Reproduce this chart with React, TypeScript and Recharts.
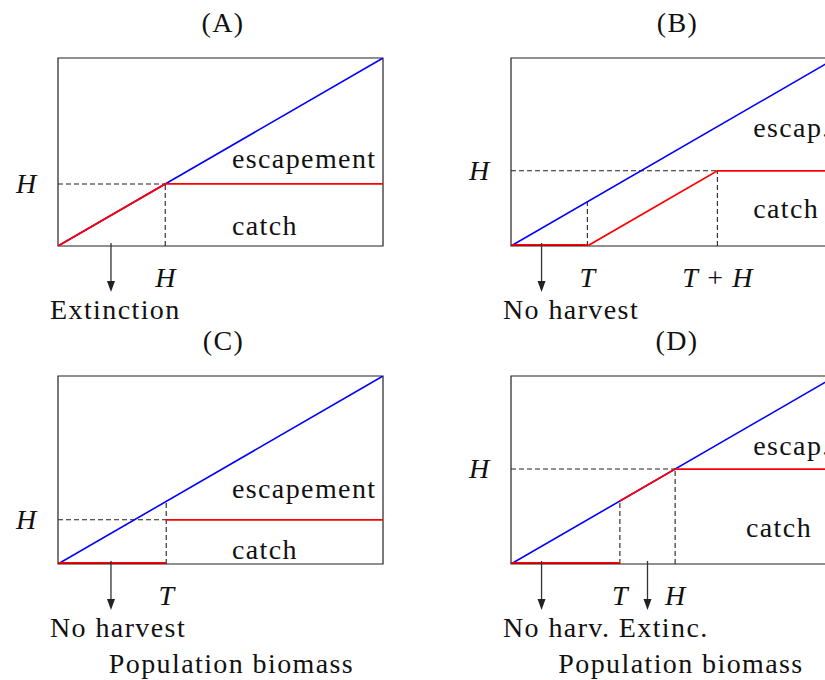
import React from 'react';
import {
  ComposedChart,
  Line,
  XAxis,
  YAxis,
  ReferenceArea,
  ReferenceLine,
  ReferenceDot,
} from 'recharts';

// ---- Harvest control rules: biomass (blue) vs. catch (red) ----

// Shared diagonal: total population biomass
const biomassX = [0, 1];
const biomassY = [0, 1];

// (A) constant catch H
const hA = 0.33;
const catchXA = [0, hA, 1];
const catchYA = [0, hA, hA];

// (B) threshold T, catch rises to H
const hB = 0.4;
const tB = 0.235;
const catchXB = [tB, tB + hB, 1];
const catchYB = [0, hB, hB];

// (C) threshold T, constant catch H above it
const hC = 0.235;
const tC = 0.333;
const catchXC = [tC, 1];
const catchYC = [hC, hC];

// (D) threshold T below H
const hD = 0.505;
const tD = 0.335;
const catchXD = [tD, hD, 1];
const catchYD = [tD, hD, hD];

// Axis ticks and their labels
const xTicksA = [hA];
const xLabelsA = ['H'];
const xTicksB = [tB, tB + hB];
const xLabelsB = ['T', 'T + H'];
const xTicksC = [tC];
const xLabelsC = ['T'];
const xTicksD = [tD, hD];
const xLabelsD = ['T', 'H'];

// Arrow positions along the biomass axis
const arrowsA = [0.163];
const arrowsB = [0.094];
const arrowsC = [0.163];
const arrowsD = [0.094, 0.42];

const FONT = 'Liberation Serif, DejaVu Serif, serif';
const FS = 28;
const LS = 1.4;
const INK = '#111';
const BLUE = '#0000ff';
const RED = '#ff0000';

type Seg = [number, number, number, number];
type Note = { text: string; x: number; y: number };

interface PanelProps {
  title: string;
  left: number;
  top: number;
  catchX: number[];
  catchY: number[];
  threshold?: number;
  xTicks: number[];
  xLabels: string[];
  yTick: number;
  guides: Seg[];
  arrows: number[];
  caption: string;
  upper: Note;
  lower: Note;
  footer?: string;
  footerShift: number;
  titleShift: number;
}

const textStyle: React.CSSProperties = {
  fontFamily: FONT,
  fontSize: FS,
  fill: INK,
};

const mathSpans = (label: string) =>
  label.split(' ').map((tok, i) =>
    tok === '+' ? (
      <tspan key={i} style={{ fontStyle: 'normal' }}>{'\u2004+\u2004'}</tspan>
    ) : (
      <tspan key={i} style={{ fontStyle: 'italic' }}>{tok}</tspan>
    )
  );

const makeXTick = (ticks: number[], labels: string[]) => (props: any) => {
  const { x, y, payload } = props;
  const idx = ticks.findIndex((t) => Math.abs(t - payload.value) < 1e-9);
  if (idx < 0) return <g />;
  return (
    <text x={x} y={y + 41} textAnchor="middle" style={textStyle}>
      {mathSpans(labels[idx])}
    </text>
  );
};

const YTick = (props: any) => {
  const { x, y } = props;
  return (
    <text x={x - 32} y={y + 9} textAnchor="middle" style={{ ...textStyle, fontStyle: 'italic' }}>
      H
    </text>
  );
};

const arrowShape = (p: any) => {
  const x = p.x1;
  const base = Math.max(p.y1, p.y2);
  return (
    <g>
      <line x1={x} y1={base - 3} x2={x} y2={base + 38} stroke="#333" strokeWidth={1.3} />
      <polygon points={`${x - 4},${base + 35} ${x + 4},${base + 35} ${x},${base + 46}`} fill="#222" />
    </g>
  );
};

const textAt = (text: string, dx: number, dy: number, anchor: 'start' | 'middle') => (p: any) => (
  <text
    x={p.cx + dx}
    y={p.cy + dy}
    textAnchor={anchor}
    style={{ ...textStyle, letterSpacing: LS }}
  >
    {text}
  </text>
);

const toPoints = (xs: number[], ys: number[]) => xs.map((x, i) => ({ x, y: ys[i] }));

const W = 412;
const HGT = 370;

const Panel = (props: PanelProps) => {
  const {
    title, left, top, catchX, catchY, threshold, xTicks, xLabels, yTick, guides, arrows,
    caption, upper, lower, footer, footerShift, titleShift,
  } = props;
  const lineCommon = {
    type: 'linear' as const,
    dataKey: 'y',
    dot: false,
    activeDot: false,
    isAnimationActive: false,
  };
  return (
    <div style={{ position: 'absolute', left, top }}>
      <ComposedChart width={W} height={HGT} margin={{ top: 58, right: 29, left: 8, bottom: 94 }}>
        <XAxis
          dataKey="x"
          type="number"
          domain={[0, 1]}
          allowDataOverflow
          ticks={xTicks}
          interval={0}
          height={30}
          axisLine={false}
          tickLine={false}
          tickSize={0}
          tickMargin={0}
          tick={makeXTick(xTicks, xLabels)}
        />
        <YAxis
          type="number"
          domain={[0, 1]}
          allowDataOverflow
          ticks={[yTick]}
          interval={0}
          width={50}
          axisLine={false}
          tickLine={false}
          tickSize={0}
          tickMargin={0}
          tick={YTick}
        />
        <ReferenceArea x1={0} x2={1} y1={0} y2={1} fill="none" stroke="#222" strokeWidth={1.2} fillOpacity={0} ifOverflow="visible" />
        {guides.map((g, i) => (
          <ReferenceLine
            key={`g${i}`}
            segment={[{ x: g[0], y: g[1] }, { x: g[2], y: g[3] }]}
            stroke="#222"
            strokeWidth={1.1}
            strokeDasharray="5 3"
            ifOverflow="visible"
          />
        ))}
        <Line {...lineCommon} data={toPoints(biomassX, biomassY)} stroke={BLUE} strokeWidth={1.6} />
        {threshold !== undefined && (
          <Line {...lineCommon} data={toPoints([0, threshold], [0, 0])} stroke={RED} strokeWidth={4} />
        )}
        {threshold !== undefined && (
          <Line {...lineCommon} data={toPoints([0, threshold], [0, 0])} stroke="#900000" strokeWidth={1} />
        )}
        <Line {...lineCommon} data={toPoints(catchX, catchY)} stroke={RED} strokeWidth={1.8} />
        {arrows.map((a, i) => (
          <ReferenceLine key={`a${i}`} x={a} ifOverflow="visible" shape={arrowShape} />
        ))}
        <ReferenceDot x={upper.x} y={upper.y} ifOverflow="visible" shape={textAt(upper.text, 0, 0, 'start')} />
        <ReferenceDot x={lower.x} y={lower.y} ifOverflow="visible" shape={textAt(lower.text, 0, 0, 'start')} />
        <ReferenceDot x={0} y={0} ifOverflow="visible" shape={textAt(caption, -8, 73, 'start')} />
        <ReferenceDot x={0.5} y={1} ifOverflow="visible" shape={textAt(title, titleShift, -26, 'middle')} />
        {footer && (
          <ReferenceDot x={0.5} y={0} ifOverflow="visible" shape={textAt(footer, footerShift, 109, 'middle')} />
        )}
      </ComposedChart>
    </div>
  );
};

export default function App() {
  return (
    <div
      style={{
        position: 'absolute',
        left: 0,
        top: 0,
        width: 825,
        height: 680,
        overflow: 'hidden',
        background: '#fff',
      }}
    >
      <Panel
        title="(A)"
        left={0}
        top={0}
        catchX={catchXA}
        catchY={catchYA}
        xTicks={xTicksA}
        xLabels={xLabelsA}
        yTick={hA}
        guides={[
          [0, hA, hA, hA],
          [hA, 0, hA, hA],
        ]}
        arrows={arrowsA}
        caption="Extinction"
        upper={{ text: 'escapement', x: 0.535, y: 0.415 }}
        lower={{ text: 'catch', x: 0.535, y: 0.058 }}
        footerShift={0}
        titleShift={2.5}
      />
      <Panel
        title="(B)"
        left={453}
        top={0}
        catchX={catchXB}
        catchY={catchYB}
        threshold={tB}
        xTicks={xTicksB}
        xLabels={xLabelsB}
        yTick={hB}
        guides={[
          [0, hB, tB + hB, hB],
          [tB, 0, tB, tB],
          [tB + hB, 0, tB + hB, hB],
        ]}
        arrows={arrowsB}
        caption="No harvest"
        upper={{ text: 'escap.', x: 0.745, y: 0.58 }}
        lower={{ text: 'catch', x: 0.745, y: 0.149 }}
        footerShift={0}
        titleShift={4}
      />
      <Panel
        title="(C)"
        left={0}
        top={318}
        catchX={catchXC}
        catchY={catchYC}
        threshold={tC}
        xTicks={xTicksC}
        xLabels={xLabelsC}
        yTick={hC}
        guides={[
          [0, hC, tC, hC],
          [tC, 0, tC, tC],
        ]}
        arrows={arrowsC}
        caption="No harvest"
        upper={{ text: 'escapement', x: 0.535, y: 0.351 }}
        lower={{ text: 'catch', x: 0.535, y: 0.027 }}
        footer="Population biomass"
        footerShift={11}
        titleShift={3}
      />
      <Panel
        title="(D)"
        left={453}
        top={318}
        catchX={catchXD}
        catchY={catchYD}
        threshold={tD}
        xTicks={xTicksD}
        xLabels={xLabelsD}
        yTick={hD}
        guides={[
          [0, hD, hD, hD],
          [tD, 0, tD, tD],
          [hD, 0, hD, hD],
        ]}
        arrows={arrowsD}
        caption="No harv. Extinc."
        upper={{ text: 'escap.', x: 0.745, y: 0.58 }}
        lower={{ text: 'catch', x: 0.723, y: 0.144 }}
        footer="Population biomass"
        footerShift={7.5}
        titleShift={3.5}
      />
    </div>
  );
}
